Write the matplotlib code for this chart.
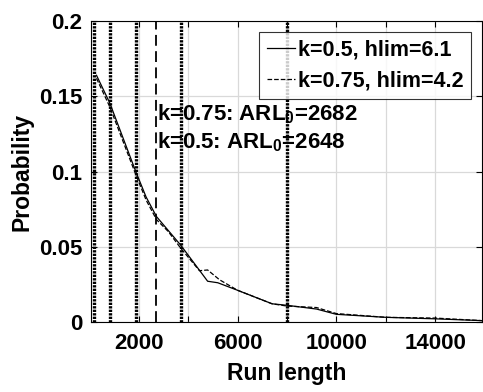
import matplotlib
matplotlib.use('Agg')
import matplotlib.pyplot as plt
from matplotlib.ticker import FormatStrFormatter

plt.rcParams['font.family'] = 'Liberation Sans'
plt.rcParams['font.weight'] = 'bold'
plt.rcParams['mathtext.fontset'] = 'custom'
plt.rcParams['mathtext.rm'] = 'Liberation Sans:bold'
plt.rcParams['mathtext.it'] = 'Liberation Sans:bold'
plt.rcParams['mathtext.bf'] = 'Liberation Sans:bold'
plt.rcParams['mathtext.default'] = 'rm'

FS = 16

# run length distribution, k=0.5 hlim=6.1
rl_a = [290, 830, 1880, 2300, 2720, 3700, 4790, 5200, 6000, 7400, 8000, 9200, 10000, 12000, 14000, 15900]
p_a = [0.164, 0.1455, 0.100, 0.083, 0.070, 0.051, 0.027, 0.026, 0.021, 0.012, 0.011, 0.0085, 0.005, 0.003, 0.002, 0.0008]
# k=0.75 hlim=4.2
rl_b = [290, 830, 1880, 2300, 2720, 3200, 3700, 4460, 4790, 5270, 6000, 7400, 8000, 9200, 10000, 12000, 14000, 15900]
p_b = [0.162, 0.143, 0.098, 0.081, 0.068, 0.060, 0.049, 0.034, 0.0345, 0.028, 0.021, 0.012, 0.0105, 0.0095, 0.0055, 0.003, 0.0025, 0.0008]

dotted_x = [180, 830, 1880, 3700, 8000]
arl_b = 2682
arl_a = 2648

xticks = [2000, 4000, 6000, 8000, 10000, 12000, 14000]
xticklabels = ['2000', '', '6000', '', '10000', '', '14000']
yticks = [0, 0.05, 0.1, 0.15, 0.2]

fig = plt.figure(figsize=(4.83, 3.92), dpi=100)
ax = fig.add_axes([0.188, 0.179, 0.810, 0.767])

for xv in dotted_x:
    ax.axvline(xv, color='black', lw=2.4, linestyle=(0, (0.7, 0.35)), zorder=2)
ax.axvline(arl_b, color='black', lw=1.3, linestyle=(0, (6, 3)), zorder=2)

ax.plot(rl_a, p_a, color='black', lw=0.9, label='k=0.5, hlim=6.1', zorder=3)
ax.plot(rl_b, p_b, color='black', lw=0.9, linestyle='--', label='k=0.75, hlim=4.2', zorder=3)

ax.text(2760, 0.138, r'k=0.75: ARL$_0$=2682', fontsize=FS, fontweight='bold', va='center', ha='left')
ax.text(2760, 0.1195, r'k=0.5: ARL$_0$=2648', fontsize=FS, fontweight='bold', va='center', ha='left')

ax.set_xlim(60, 15900)
ax.set_ylim(0, 0.2)
ax.set_xticks(xticks)
ax.set_xticklabels(xticklabels)
ax.set_yticks(yticks)
ax.yaxis.set_major_formatter(FormatStrFormatter('%g'))
ax.tick_params(direction='in', top=True, right=True, labelsize=FS, length=4, width=0.8)
ax.tick_params(axis='x', pad=8)
ax.tick_params(axis='y', pad=6)
for lab in ax.get_xticklabels() + ax.get_yticklabels():
    lab.set_fontweight('bold')
ax.grid(True, color='#d9d9d9', lw=0.9)
ax.set_axisbelow(True)
ax.set_xlabel('Run length', fontsize=16.5, fontweight='bold', labelpad=6)
ax.set_ylabel('Probability', fontsize=16.5, fontweight='bold', labelpad=4)

leg = ax.legend(loc='upper right', fontsize=15.5, frameon=True, fancybox=False,
                edgecolor='black', handlelength=1.3, handletextpad=0.15,
                borderpad=0.35, labelspacing=0.45, borderaxespad=0.5)
leg.get_frame().set_linewidth(0.8)
for t in leg.get_texts():
    t.set_fontweight('bold')

fig.savefig('out.png', dpi=100)
